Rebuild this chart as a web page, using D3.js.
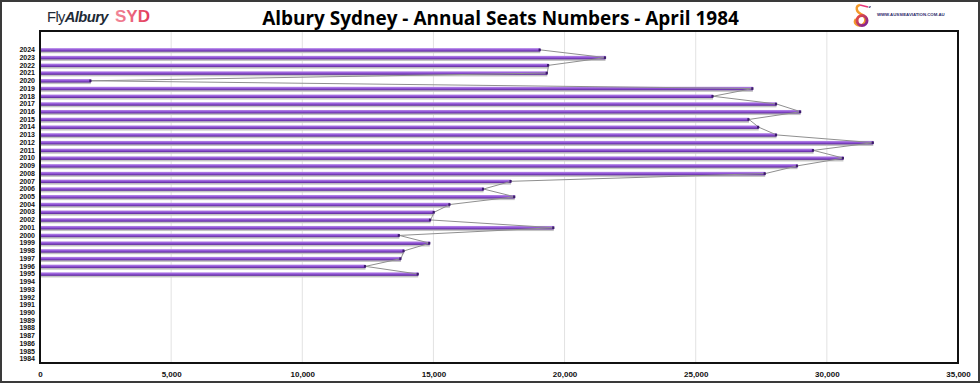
<!DOCTYPE html>
<html>
<head>
<meta charset="utf-8">
<script src="https://cdn.jsdelivr.net/npm/d3@7"></script>
<style>
html,body{margin:0;padding:0;background:#fff;}
svg{display:block;}
</style>
</head>
<body>
<svg id="chart" width="980" height="383"></svg>
<script>
// ---- data ----
const years = d3.range(1984, 2025);
const seatYears = [1995,1996,1997,1998,1999,2000,2001,2002,2003,2004,2005,2006,2007,2008,2009,2010,2011,2012,2013,2014,2015,2016,2017,2018,2019,2020,2021,2022,2023,2024];
const seatValues = [14420,12410,13760,13880,14860,13700,19590,14890,15030,15630,18100,16910,17960,27650,28880,30630,29490,31770,28080,27400,27030,29000,28080,25660,27180,1940,19340,19390,21560,19070];
const xTicks = [0,5000,10000,15000,20000,25000,30000,35000];
const titleText = "Albury Sydney - Annual Seats Numbers - April 1984";

const data = seatYears.map((y,i)=>({year:y, value:seatValues[i]}));

const svg = d3.select("#chart");
const W = 980, H = 383;
const plot = {left:40, right:958, top:31, bottom:363};

const defs = svg.append("defs");
const g1 = defs.append("linearGradient").attr("id","barGrad").attr("x1",0).attr("y1",0).attr("x2",0).attr("y2",1);
g1.append("stop").attr("offset","0%").attr("stop-color","#b88ce8");
g1.append("stop").attr("offset","45%").attr("stop-color","#9458d8");
g1.append("stop").attr("offset","100%").attr("stop-color","#5a2698");

// outer border
svg.append("rect").attr("x",1).attr("y",1).attr("width",W-2).attr("height",H-2)
  .attr("fill","#fff").attr("stroke","#3a3a3a").attr("stroke-width",2);

const x = d3.scaleLinear().domain([0,35000]).range([plot.left, plot.right]);
const y = d3.scaleBand().domain(years.slice().reverse()).range([46, plot.bottom]).padding(0);
const cy = yr => y(yr) + y.bandwidth()/2;

// gridlines
svg.append("g").selectAll("line").data(xTicks.slice(1,-1)).join("line")
  .attr("x1",d=>x(d)).attr("x2",d=>x(d)).attr("y1",plot.top).attr("y2",plot.bottom)
  .attr("stroke","#e2e2e2").attr("stroke-width",1);

// bars
const barH = 3.5;
const bars = svg.append("g");
bars.selectAll("rect.shadow").data(data).join("rect").attr("class","shadow")
  .attr("x",x(0)).attr("y",d=>cy(d.year)-barH/2+1.6)
  .attr("width",d=>x(d.value)-x(0)).attr("height",barH)
  .attr("fill","#c4c4c4");
bars.selectAll("rect.bar").data(data).join("rect").attr("class","bar")
  .attr("x",x(0)).attr("y",d=>cy(d.year)-barH/2)
  .attr("width",d=>x(d.value)-x(0)).attr("height",barH)
  .attr("fill","url(#barGrad)");

// connecting line
const line = d3.line().x(d=>x(d.value)).y(d=>cy(d.year));
svg.append("path").datum(data).attr("d",line).attr("fill","none")
  .attr("stroke","#8f8f8f").attr("stroke-width",1);
svg.append("g").selectAll("rect").data(data).join("rect")
  .attr("x",d=>x(d.value)-1.6).attr("y",d=>cy(d.year)-1.3)
  .attr("width",2.2).attr("height",2.6).attr("fill","#3d1a6e");

// plot frame
svg.append("rect").attr("x",plot.left).attr("y",plot.top)
  .attr("width",plot.right-plot.left).attr("height",plot.bottom-plot.top)
  .attr("fill","none").attr("stroke","#111").attr("stroke-width",2);

// y axis labels
const yAxis = d3.axisLeft(y).tickSize(0).tickPadding(5);
const yg = svg.append("g").attr("transform",`translate(${plot.left},0)`).call(yAxis);
yg.select(".domain").remove();
yg.selectAll("text").attr("font-family","Liberation Sans, Arial, sans-serif")
  .attr("font-size","7px").attr("font-weight","bold").attr("fill","#111");

// x axis labels
const xAxis = d3.axisBottom(x).tickValues(xTicks).tickFormat(d3.format(",")).tickSize(0).tickPadding(8);
const xg = svg.append("g").attr("transform",`translate(0,${plot.bottom})`).call(xAxis);
xg.select(".domain").remove();
xg.selectAll("text").attr("font-family","Liberation Sans, Arial, sans-serif")
  .attr("font-size","8px").attr("font-weight","bold").attr("fill","#111");

// title
const title = svg.append("text").attr("x",(262+739)/2).attr("y",25)
  .attr("text-anchor","middle").attr("font-family","Open Sans, Lato, sans-serif")
  .attr("font-weight","bold").attr("font-size","22px").attr("fill","#000").text(titleText);
const tw = title.node().getComputedTextLength();
title.attr("font-size", (22*477/tw).toFixed(2)+"px");

// left logo
const logo = svg.append("text").attr("x",47).attr("y",22)
  .attr("font-family","Liberation Sans, Arial, sans-serif").attr("font-size","15px").attr("fill","#1e2a36");
logo.append("tspan").attr("letter-spacing","-0.6").text("Fly");
logo.append("tspan").attr("font-weight","bold").attr("font-style","italic").attr("letter-spacing","-0.6").text("Albury");
const lw = logo.node().getComputedTextLength();
logo.attr("font-size", (15*61/lw).toFixed(2)+"px");
const g2 = defs.append("linearGradient").attr("id","sydGrad").attr("x1",0).attr("x2",1);
g2.append("stop").attr("offset","0%").attr("stop-color","#f2899a");
g2.append("stop").attr("offset","100%").attr("stop-color","#e23a5a");
svg.append("text").attr("x",115).attr("y",22).attr("font-family","Liberation Sans, Arial, sans-serif")
  .attr("font-size","17px").attr("font-weight","bold").attr("fill","url(#sydGrad)").text("SYD");

// right logo
const lg = svg.append("g").attr("transform","translate(862,16)");
const g3 = defs.append("linearGradient").attr("id","lgGrad").attr("x1",0).attr("y1",0).attr("x2",1).attr("y2",1);
g3.append("stop").attr("offset","0%").attr("stop-color","#f0503c");
g3.append("stop").attr("offset","100%").attr("stop-color","#7a1e9a");
lg.append("path").attr("d","M-2,-11 C-7,-10 -6,-4 -1,-2 C4,0 5,6 0,9 C-5,11 -9,7 -6,3")
  .attr("fill","none").attr("stroke","#f39a2a").attr("stroke-width",2.4);
lg.append("ellipse").attr("cx",0).attr("cy",4.5).attr("rx",5).attr("ry",5).attr("fill","none")
  .attr("stroke","url(#lgGrad)").attr("stroke-width",3);
lg.append("path").attr("d","M-2,-11 L6,-9").attr("stroke","#e8357a").attr("stroke-width",1.5);
lg.append("path").attr("d","M6,-9 l3,-1 l-1,2 z").attr("fill","#2a2a6a");
svg.append("text").attr("x",877).attr("y",15.5).attr("font-family","Liberation Sans, Arial, sans-serif")
  .attr("font-size","4.3px").attr("font-weight","bold").attr("fill","#2a2a6a").text("WWW.AUSSIEAVIATION.COM.AU");
</script>
</body>
</html>
